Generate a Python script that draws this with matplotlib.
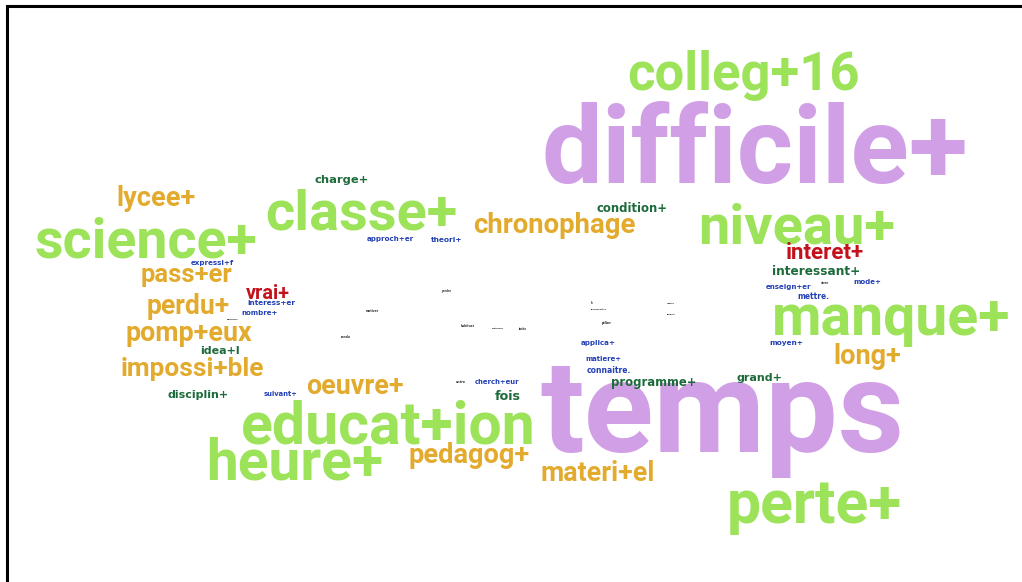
import matplotlib
matplotlib.use("Agg")
import matplotlib.pyplot as plt

OUT_PNG = "out.png"

COLORS = {
    "L": "#9ce35a",   # light green
    "P": "#d19fe6",   # purple
    "O": "#e3ab2e",   # orange
    "D": "#1d6b3b",   # dark green
    "R": "#c4121c",   # red
    "B": "#2340b5",   # blue
    "K": "#333333",   # tiny black
}

words = [
    "colleg+16", "difficile+", "temps", "manque+", "niveau+", "science+",
    "classe+", "educat+ion", "heure+", "perte+",
    "chronophage", "lycee+", "pass+er", "perdu+", "pomp+eux", "impossi+ble",
    "oeuvre+", "pedagog+", "materi+el", "long+",
    "interet+", "vrai+",
    "charge+", "condition+", "interessant+", "idea+l", "disciplin+",
    "programme+", "grand+", "fois",
    "expressi+f", "interess+er", "nombre+", "approch+er", "theori+",
    "applica+", "matiere+", "connaitre.", "cherch+eur", "suivant+",
    "enseign+er", "mode+", "mettre.", "moyen+",
    "generaler", "motiver", "rendu", "perdre", "habituer", "pratiquer",
    "tache", "le", "transmettre", "metre", "plupart", "pilier", "vivre", "entre",
]
groups = (["P" if w in ("difficile+", "temps") else "L" for w in words[:10]]
          + ["O"] * 10 + ["R"] * 2 + ["D"] * 8 + ["B"] * 14 + ["K"] * 14)

# layout: centre x, baseline y, width (pixels)
xs = [744, 755, 722, 891, 797, 146, 361, 388, 295, 814,
      554, 156, 186, 188, 189, 192, 355, 469, 598, 867,
      825, 268,
      342, 632, 816, 220, 198, 654, 759, 508,
      212, 271, 260, 390, 447, 598, 603, 609, 497, 280, 789, 867, 813, 786,
      233, 372, 346, 447, 468, 498, 523, 592, 599, 671, 671, 607, 825, 461]
ys = [90, 183, 452, 335, 243, 258, 230, 443, 480, 523,
      233, 206, 282, 314, 341, 376, 394, 463, 481, 364,
      259, 299,
      183, 212, 275, 354, 398, 386, 381, 400,
      265, 305, 315, 241, 242, 345, 361, 373, 384, 396, 289, 284, 299, 345,
      320, 312, 338, 292, 327, 329, 330, 304, 310, 304, 315, 324, 284, 383]
widths = [232, 430, 365, 238, 197, 223, 192, 295, 176, 175,
          163, 79, 91, 83, 127, 144, 97, 122, 114, 68,
          78, 44,
          54, 71, 88, 40, 61, 86, 46, 26,
          43, 48, 36, 47, 31, 35, 36, 44, 45, 34, 45, 28, 32, 34,
          12, 13, 10, 10, 14, 12, 8, 3, 16, 8, 9, 10, 8, 10]


def main():
    fig = plt.figure(figsize=(10.22, 5.82), dpi=100)
    ax = fig.add_axes([0, 0, 1, 1])
    ax.set_xlim(0, 1022)
    ax.set_ylim(582, 0)
    ax.axis("off")

    # frame (cut off on the right and bottom)
    ax.plot([7, 7, 1030], [600, 6, 6], color="black", lw=2.2,
            solid_joinstyle="miter", clip_on=False)

    fig.canvas.draw()
    renderer = fig.canvas.get_renderer()
    texts = []
    for w, g, x, y in zip(words, groups, xs, ys):
        if g in ("L", "P", "O", "R"):
            fam = ["Roboto", "DejaVu Sans"]
        else:
            fam = ["DejaVu Sans"]
        t = ax.text(x, y, w, color=COLORS[g], fontsize=10, ha="center",
                    va="baseline", fontweight="bold", fontstretch="normal",
                    family=fam)
        texts.append(t)
    for t, target in zip(texts, widths):
        bw = t.get_window_extent(renderer).width
        t.set_fontsize(10 * target / bw)

    fig.savefig(OUT_PNG, dpi=100)
    plt.close(fig)


if __name__ == "__main__":
    main()
